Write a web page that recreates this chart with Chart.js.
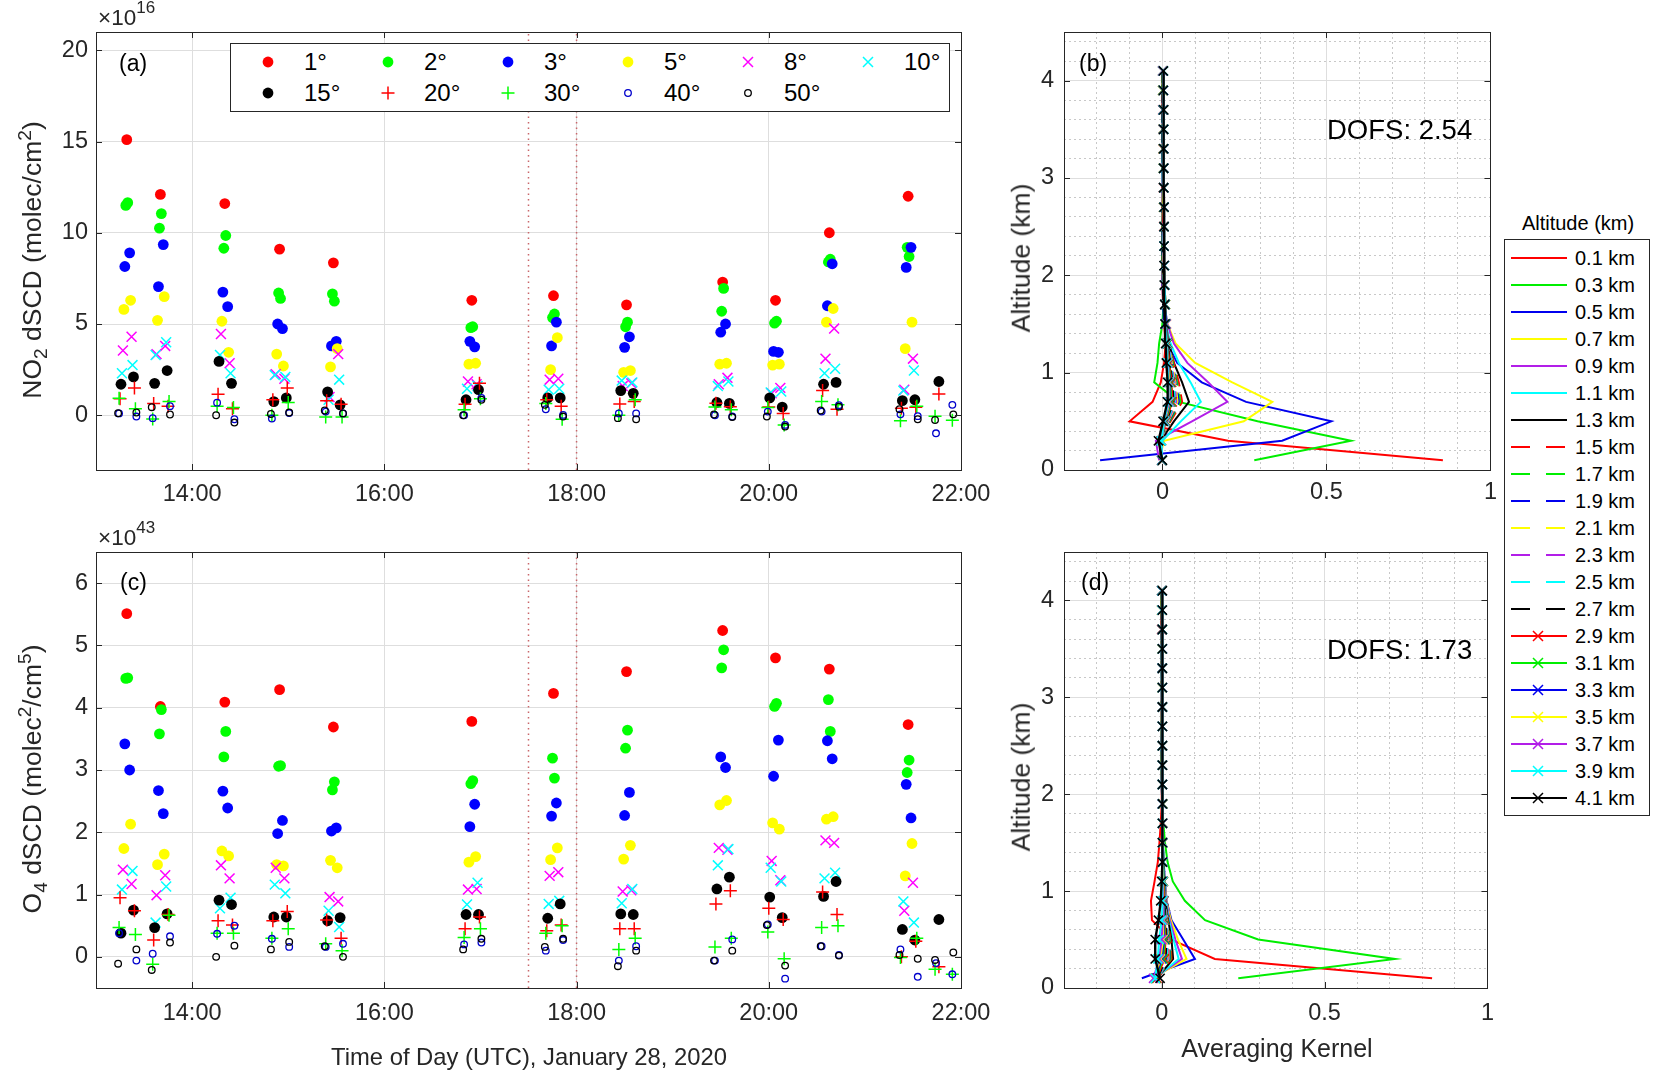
<!DOCTYPE html>
<html>
<head>
<meta charset="utf-8">
<script src="https://cdn.jsdelivr.net/npm/chart.js@4.4.1/dist/chart.umd.min.js"></script>
<style>
  body { margin: 0; background: #fff; font-family: "Liberation Sans", Arial, Helvetica, sans-serif; color: #262626; }
  #page { position: relative; width: 1656px; height: 1072px; overflow: hidden; background: #fff; }
  canvas { position: absolute; }
  .txt { position: absolute; white-space: nowrap; line-height: 1; }
  .rot { transform: translate(-50%, -50%) rotate(-90deg); }
  .ctr { transform: translate(-50%, -50%); }
  .sup { position: relative; top: -0.55em; font-size: 0.72em; }
  .sub { position: relative; top: 0.3em; font-size: 0.72em; }
  .exp { position: relative; top: -12px; font-size: 17px; }
  .legbox { position: absolute; border: 1px solid #262626; background: #fff; box-sizing: border-box; }
</style>
</head>
<body>
<div id="page">
  <canvas id="cA" width="1010" height="520" style="left:0;top:0;width:1010px;height:520px"></canvas>
  <canvas id="cC" width="1010" height="552" style="left:0;top:520px;width:1010px;height:552px"></canvas>
  <canvas id="cB" width="530" height="520" style="left:975px;top:0;width:530px;height:520px"></canvas>
  <canvas id="cD" width="530" height="552" style="left:975px;top:520px;width:530px;height:552px"></canvas>

  <div class="txt" style="left:98px;top:7px;font-size:22.5px">×10<span class="exp">16</span></div>
  <div class="txt" style="left:98px;top:527px;font-size:22.5px">×10<span class="exp">43</span></div>

  <div class="txt rot" style="left:32px;top:260px;font-size:26.5px">NO<span class="sub">2</span> dSCD (molec/cm<span class="sup">2</span>)</div>
  <div class="txt rot" style="left:32px;top:779px;font-size:26.5px">O<span class="sub">4</span> dSCD (molec<span class="sup">2</span>/cm<span class="sup">5</span>)</div>
  <div class="txt rot" style="left:1021px;top:258px;font-size:26.5px">Altitude (km)</div>
  <div class="txt rot" style="left:1021px;top:777px;font-size:26.5px">Altitude (km)</div>
  <div class="txt ctr" style="left:529px;top:1057px;font-size:23.8px">Time of Day (UTC), January 28, 2020</div>
  <div class="txt ctr" style="left:1277px;top:1048px;font-size:25px">Averaging Kernel</div>

  <div class="txt" style="left:119px;top:52px;font-size:23px;color:#000">(a)</div>
  <div class="txt" style="left:120px;top:571px;font-size:23px;color:#000">(c)</div>
  <div class="txt" style="left:1079px;top:52px;font-size:23px;color:#000">(b)</div>
  <div class="txt" style="left:1081px;top:571px;font-size:23px;color:#000">(d)</div>

  <div class="txt" style="left:1327px;top:116px;font-size:27.5px;color:#000">DOFS: 2.54</div>
  <div class="txt" style="left:1327px;top:636px;font-size:27.5px;color:#000">DOFS: 1.73</div>

  <div id="legAngles"></div>
  <div class="txt ctr" style="left:1578px;top:223px;font-size:20px;color:#000">Altitude (km)</div>
  <div id="legAlt"></div>
</div>

<script>
// ---- panel (a)/(c): elevation-angle dSCDs ----
const timeTicks = [14, 16, 18, 20, 22];
const timeRange = [13, 22];
const no2Ticks = [0, 5, 10, 15, 20];
const no2Range = [-3, 21];
const o4Ticks = [0, 1, 2, 3, 4, 5, 6];
const o4Range = [-0.5, 6.5];
const refTimes = [17.5, 18.0];

const angleLabels = ['1°', '2°', '3°', '5°', '8°', '10°', '15°', '20°', '30°', '40°', '50°'];
const angleColors = ['#ff0000', '#00ff00', '#0000ff', '#ffff00', '#ff00ff', '#00ffff', '#000000', '#ff0000', '#00ff00', '#0000cc', '#000000'];
const angleMarks = ['dot', 'dot', 'dot', 'dot', 'x', 'x', 'dot', 'plus', 'plus', 'ring', 'ring'];

// measurement times (hours UTC)
const t1 = [13.32, 13.67, 14.34, 14.91, 15.47, 16.91, 17.76, 18.52, 19.52, 20.07, 20.63, 21.45];
const t2 = [13.31, 13.33, 13.66, 13.68, 14.33, 14.35, 14.90, 14.92, 15.46, 15.48, 16.90, 16.92, 17.75, 17.77, 18.51, 18.53, 19.51, 19.53, 20.06, 20.08, 20.62, 20.64, 21.44, 21.46];
const t3 = [13.30, 13.35, 13.65, 13.70, 14.32, 14.37, 14.89, 14.94, 15.45, 15.50, 16.89, 16.94, 17.74, 17.79, 18.50, 18.55, 19.50, 19.55, 20.05, 20.10, 20.61, 20.66, 21.43, 21.48];
const t5 = [13.29, 13.36, 13.64, 13.71, 14.31, 14.38, 14.88, 14.95, 15.44, 15.51, 16.88, 16.95, 17.73, 17.80, 18.49, 18.56, 19.49, 19.56, 20.04, 20.11, 20.60, 20.67, 21.42, 21.49];
const t8 = [13.28, 13.37, 13.63, 13.72, 14.30, 14.39, 14.87, 14.96, 15.43, 15.52, 16.87, 16.96, 17.72, 17.81, 18.48, 18.57, 19.48, 19.57, 20.03, 20.12, 20.59, 20.68, 21.41, 21.50];
const t10 = [13.27, 13.38, 13.62, 13.73, 14.29, 14.40, 14.86, 14.97, 15.42, 15.53, 16.86, 16.97, 17.71, 17.82, 18.47, 18.58, 19.47, 19.58, 20.02, 20.13, 20.58, 20.69, 21.40, 21.51];
const t15 = [13.26, 13.39, 13.61, 13.74, 14.28, 14.41, 14.85, 14.98, 15.41, 15.54, 16.85, 16.98, 17.70, 17.83, 18.46, 18.59, 19.46, 19.59, 20.01, 20.14, 20.57, 20.70, 21.39, 21.52, 21.77];
const t20 = [13.25, 13.40, 13.60, 13.75, 14.27, 14.42, 14.84, 14.99, 15.40, 15.55, 16.84, 16.99, 17.69, 17.84, 18.45, 18.60, 19.45, 19.60, 20.00, 20.15, 20.56, 20.71, 21.38, 21.53, 21.77];
const t30 = [13.24, 13.41, 13.59, 13.76, 14.26, 14.43, 14.83, 15.00, 15.39, 15.56, 16.83, 17.00, 17.68, 17.85, 18.44, 18.61, 19.44, 19.61, 19.99, 20.16, 20.55, 20.72, 21.37, 21.54, 21.73, 21.91];
const t40 = [13.24, 13.42, 13.59, 13.77, 14.26, 14.44, 14.83, 15.01, 15.39, 15.57, 16.83, 17.01, 17.68, 17.86, 18.44, 18.62, 19.44, 19.62, 19.99, 20.17, 20.55, 20.73, 21.37, 21.55, 21.74, 21.91];
const t50 = [13.23, 13.42, 13.58, 13.77, 14.25, 14.44, 14.82, 15.01, 15.38, 15.57, 16.82, 17.01, 17.67, 17.86, 18.43, 18.62, 19.43, 19.62, 19.98, 20.17, 20.54, 20.73, 21.36, 21.55, 21.73, 21.92];

// NO2 dSCD, x1e16 molec/cm2
const no2_1 = [15.1, 12.1, 11.6, 9.1, 8.35, 6.3, 6.55, 6.05, 7.3, 6.3, 10.0, 12.0];
const no2_2 = [11.5, 11.65, 10.25, 11.05, 9.15, 9.85, 6.7, 6.4, 6.65, 6.25, 4.8, 4.85, 5.35, 5.55, 4.85, 5.1, 5.7, 6.95, 5.05, 5.15, 8.4, 8.55, 9.2, 8.7];
const no2_3 = [8.15, 8.9, 7.05, 9.35, 6.75, 5.95, 5.0, 4.75, 3.8, 4.05, 4.05, 3.75, 3.8, 5.1, 3.72, 4.3, 4.55, 5.0, 3.5, 3.45, 6.0, 8.3, 8.1, 9.2];
const no2_5 = [5.8, 6.3, 5.2, 6.5, 5.15, 3.45, 3.35, 2.7, 2.65, 3.65, 2.8, 2.85, 2.5, 4.25, 2.35, 2.45, 2.8, 2.85, 2.75, 2.8, 5.1, 5.85, 3.65, 5.1];
const no2_8 = [3.55, 4.3, 3.35, 3.8, 4.45, 2.85, 2.25, 2.0, 1.0, 3.35, 1.85, 1.7, 1.95, 2.0, 1.6, 1.75, 1.7, 2.05, 1.2, 1.5, 3.1, 4.75, 1.4, 3.1];
const no2_10 = [2.3, 2.75, 3.3, 4.0, 3.3, 2.3, 2.2, 2.1, 0.85, 1.95, 1.45, 1.6, 1.4, 1.45, 1.9, 1.8, 1.6, 1.85, 1.25, 1.3, 2.3, 2.55, 1.35, 2.45];
const no2_15 = [1.7, 2.1, 1.75, 2.45, 2.95, 1.75, 0.75, 0.95, 1.28, 0.57, 0.85, 1.4, 0.95, 0.95, 1.35, 1.2, 0.7, 0.65, 0.95, 0.45, 1.7, 1.8, 0.8, 0.85, 1.85];
const no2_20 = [0.9, 1.5, 0.65, 0.5, 1.15, 0.35, 0.85, 1.5, 0.8, 0.6, 0.6, 1.75, 0.85, 0.5, 0.62, 0.75, 0.66, 0.47, 0.45, 0.1, 1.35, 0.33, 0.38, 0.44, 1.17];
const no2_30 = [0.93, 0.35, -0.2, 0.75, 0.5, 0.42, 0.0, 0.7, -0.1, -0.1, 0.3, 0.9, 0.65, -0.22, 0.0, 0.85, 0.45, 0.3, 0.42, -0.53, 0.75, 0.57, -0.3, 0.5, -0.05, -0.28];
const no2_40 = [0.1, -0.07, -0.16, 0.5, 0.69, -0.22, -0.18, 0.12, 0.2, 0.1, 0.0, 0.95, 0.33, 0.02, 0.1, 0.1, 0.0, -0.07, 0.2, -0.53, 0.2, 0.55, 0.05, -0.05, -0.99, 0.57];
const no2_50 = [0.11, 0.15, 0.44, 0.04, 0.0, -0.4, 0.07, 0.15, 0.26, 0.1, 0.0, 0.85, 0.57, -0.07, -0.16, -0.22, 0.04, -0.1, -0.07, -0.62, 0.26, 0.47, 0.33, -0.22, -0.26, 0.05];

// O4 dSCD, x1e43 molec2/cm5
const o4_1 = [5.51, 4.02, 4.09, 4.29, 3.69, 3.78, 4.23, 4.58, 5.24, 4.8, 4.62, 3.73];
const o4_2 = [4.47, 4.48, 3.58, 3.97, 3.21, 3.62, 3.06, 3.07, 2.68, 2.81, 2.78, 2.83, 3.19, 2.87, 3.35, 3.64, 4.64, 4.93, 4.02, 4.07, 4.13, 3.62, 2.96, 3.16];
const o4_3 = [3.42, 3.0, 2.67, 2.3, 2.66, 2.39, 1.98, 2.19, 2.02, 2.07, 2.09, 2.45, 2.26, 2.47, 2.27, 2.64, 3.21, 3.04, 2.9, 3.48, 3.47, 3.18, 2.77, 2.23];
const o4_5 = [1.74, 2.13, 1.48, 1.65, 1.7, 1.62, 1.48, 1.46, 1.55, 1.43, 1.52, 1.61, 1.56, 1.75, 1.57, 1.79, 2.44, 2.51, 2.15, 2.05, 2.21, 2.25, 1.3, 1.82];
const o4_8 = [1.4, 1.17, 0.99, 1.31, 1.47, 1.26, 1.43, 1.26, 0.96, 0.89, 1.08, 1.09, 1.3, 1.36, 1.05, 1.07, 1.75, 1.72, 1.54, 1.23, 1.87, 1.83, 0.74, 1.19];
const o4_10 = [1.08, 1.38, 0.55, 1.13, 0.78, 0.95, 1.16, 1.02, 0.74, 0.48, 0.84, 1.19, 0.85, 0.9, 0.86, 1.09, 1.47, 1.73, 1.43, 1.21, 1.26, 1.35, 0.89, 0.55];
const o4_15 = [0.38, 0.75, 0.47, 0.69, 0.91, 0.84, 0.64, 0.64, 0.58, 0.63, 0.68, 0.68, 0.62, 0.85, 0.69, 0.68, 1.09, 1.28, 0.96, 0.63, 0.97, 1.21, 0.44, 0.27, 0.6];
const o4_20 = [0.95, 0.74, 0.27, 0.68, 0.58, 0.51, 0.58, 0.73, 0.59, 0.3, 0.45, 0.64, 0.42, 0.51, 0.45, 0.45, 0.85, 1.06, 0.78, 0.6, 1.04, 0.68, 0.0, 0.25, -0.16];
const o4_30 = [0.47, 0.36, -0.12, 0.67, 0.38, 0.38, 0.3, 0.45, 0.21, 0.1, 0.31, 0.45, 0.38, 0.5, 0.12, 0.3, 0.16, 0.3, 0.4, -0.03, 0.47, 0.5, -0.01, 0.3, -0.2, -0.28];
const o4_40 = [0.38, -0.06, 0.05, 0.33, 0.37, 0.5, 0.29, 0.16, 0.16, 0.21, 0.2, 0.23, 0.1, 0.27, -0.06, 0.17, -0.06, 0.28, 0.52, -0.35, 0.17, 0.03, 0.12, -0.32, -0.1, -0.28];
const o4_50 = [-0.11, 0.12, -0.21, 0.23, 0.0, 0.18, 0.12, 0.24, 0.17, 0.0, 0.12, 0.29, 0.16, 0.29, -0.15, 0.1, -0.06, 0.1, 0.51, -0.14, 0.17, 0.02, 0.03, -0.03, -0.05, 0.07];

// ---- panel (b)/(d): averaging kernels ----
const altitudes = [0.1, 0.3, 0.5, 0.7, 0.9, 1.1, 1.3, 1.5, 1.7, 1.9, 2.1, 2.3, 2.5, 2.7, 2.9, 3.1, 3.3, 3.5, 3.7, 3.9, 4.1];
const akLabels = ['0.1 km', '0.3 km', '0.5 km', '0.7 km', '0.9 km', '1.1 km', '1.3 km', '1.5 km', '1.7 km', '1.9 km', '2.1 km',
                  '2.3 km', '2.5 km', '2.7 km', '2.9 km', '3.1 km', '3.3 km', '3.5 km', '3.7 km', '3.9 km', '4.1 km'];
const akColors = ['#ff0000', '#00ee00', '#0000ee', '#ffff00', '#b21ee8', '#00ffff', '#000000'];
const akXTicks = [-0.2, -0.1, 0, 0.1, 0.2, 0.3, 0.4, 0.5, 0.6, 0.7, 0.8, 0.9, 1.0];
const akXMajor = [0, 0.5, 1.0];
const akYTicks = [0, 0.2, 0.4, 0.6, 0.8, 1, 1.2, 1.4, 1.6, 1.8, 2, 2.2, 2.4, 2.6, 2.8, 3, 3.2, 3.4, 3.6, 3.8, 4, 4.2, 4.4];
const akYMajor = [0, 1, 2, 3, 4];
const akXRange = [-0.3, 1.0];
const akYRange = [0, 4.5];

// NO2 retrieval kernels (b)
const akB01 = [0.855, 0.20, -0.10, -0.03, -0.005, 0.005, 0.01, 0.005, 0.002, 0, 0, 0, 0, 0, 0, 0, 0, 0, 0, 0, 0];
const akB03 = [0.28, 0.575, 0.29, 0.05, -0.025, -0.015, -0.01, 0.0, 0.003, 0.002, 0.001, 0, 0, 0, 0, 0, 0, 0, 0, 0, 0];
const akB05 = [-0.19, 0.365, 0.515, 0.255, 0.12, 0.045, 0.015, 0.005, 0.002, 0.001, 0, 0, 0, 0, 0, 0, 0, 0, 0, 0, 0];
const akB07 = [-0.01, 0.005, 0.248, 0.335, 0.213, 0.10, 0.04, 0.015, 0.005, 0.002, 0, 0, 0, 0, 0, 0, 0, 0, 0, 0, 0];
const akB09 = [-0.01, -0.02, 0.09, 0.198, 0.14, 0.076, 0.035, 0.015, 0.006, 0.002, 0.001, 0, 0, 0, 0, 0, 0, 0, 0, 0, 0];
const akB11 = [-0.005, 0.0, 0.056, 0.117, 0.086, 0.05, 0.025, 0.01, 0.005, 0.002, 0.001, 0, 0, 0, 0, 0, 0, 0, 0, 0, 0];
const akB13 = [-0.005, -0.005, 0.035, 0.081, 0.06, 0.035, 0.02, 0.008, 0.004, 0.002, 0.001, 0, 0, 0, 0, 0, 0, 0, 0, 0, 0];
const akB15 = [-0.005, -0.008, 0.025, 0.06, 0.05, 0.035, 0.02, 0.01, 0.005, 0.002, 0.001, 0, 0, 0, 0, 0, 0, 0, 0, 0, 0];
const akB17 = [-0.004, -0.008, 0.022, 0.055, 0.045, 0.032, 0.02, 0.012, 0.006, 0.003, 0.001, 0, 0, 0, 0, 0, 0, 0, 0, 0, 0];
const akB19 = [-0.004, -0.007, 0.02, 0.05, 0.042, 0.03, 0.02, 0.012, 0.007, 0.004, 0.002, 0.001, 0, 0, 0, 0, 0, 0, 0, 0, 0];
const akB21 = [-0.003, -0.006, 0.018, 0.046, 0.04, 0.029, 0.02, 0.013, 0.008, 0.005, 0.003, 0.002, 0.001, 0, 0, 0, 0, 0, 0, 0, 0];
const akB23 = [-0.003, -0.006, 0.016, 0.042, 0.037, 0.027, 0.019, 0.013, 0.009, 0.006, 0.004, 0.003, 0.002, 0.001, 0, 0, 0, 0, 0, 0, 0];
const akB25 = [-0.003, -0.005, 0.014, 0.038, 0.034, 0.025, 0.018, 0.013, 0.009, 0.007, 0.005, 0.004, 0.003, 0.002, 0.001, 0, 0, 0, 0, 0, 0];
const akB27 = [-0.002, -0.005, 0.012, 0.034, 0.031, 0.023, 0.017, 0.012, 0.009, 0.007, 0.006, 0.005, 0.004, 0.003, 0.002, 0.001, 0, 0, 0, 0, 0];
const akB29 = [-0.002, -0.004, 0.01, 0.03, 0.028, 0.021, 0.016, 0.012, 0.009, 0.007, 0.006, 0.005, 0.004, 0.004, 0.003, 0.003, 0.002, 0.002, 0.001, 0.001, 0.001];
const akB31 = [-0.002, -0.004, 0.009, 0.027, 0.025, 0.019, 0.015, 0.011, 0.009, 0.007, 0.006, 0.005, 0.005, 0.004, 0.004, 0.003, 0.003, 0.002, 0.002, 0.001, 0.001];
const akB33 = [-0.002, -0.004, 0.008, 0.024, 0.023, 0.018, 0.014, 0.011, 0.008, 0.007, 0.006, 0.005, 0.005, 0.004, 0.004, 0.004, 0.003, 0.003, 0.002, 0.002, 0.001];
const akB35 = [-0.001, -0.003, 0.007, 0.022, 0.021, 0.017, 0.013, 0.01, 0.008, 0.007, 0.006, 0.005, 0.005, 0.004, 0.004, 0.004, 0.003, 0.003, 0.003, 0.002, 0.002];
const akB37 = [-0.001, -0.003, 0.006, 0.02, 0.019, 0.016, 0.012, 0.01, 0.008, 0.007, 0.006, 0.005, 0.005, 0.005, 0.004, 0.004, 0.004, 0.003, 0.003, 0.003, 0.002];
const akB39 = [-0.001, -0.003, 0.005, 0.018, 0.018, 0.015, 0.012, 0.009, 0.008, 0.007, 0.006, 0.005, 0.005, 0.005, 0.004, 0.004, 0.004, 0.004, 0.003, 0.003, 0.003];
const akB41 = [0.0, -0.012, 0.002, 0.015, 0.016, 0.012, 0.01, 0.008, 0.007, 0.006, 0.005, 0.005, 0.005, 0.005, 0.004, 0.004, 0.004, 0.004, 0.004, 0.003, 0.003];

// O4 retrieval kernels (d)
const akD01 = [0.83, 0.163, 0.03, -0.03, -0.033, -0.022, -0.012, -0.007, -0.003, 0, 0, 0, 0, 0, 0, 0, 0, 0, 0, 0, 0];
const akD03 = [0.235, 0.716, 0.296, 0.133, 0.071, 0.034, 0.018, 0.01, 0.005, 0.002, 0.001, 0, 0, 0, 0, 0, 0, 0, 0, 0, 0];
const akD05 = [-0.061, 0.102, 0.066, 0.03, 0.015, 0.01, 0.006, 0.003, 0.002, 0.001, 0, 0, 0, 0, 0, 0, 0, 0, 0, 0, 0];
const akD07 = [-0.03, 0.076, 0.05, 0.028, 0.014, 0.009, 0.005, 0.003, 0.002, 0.001, 0, 0, 0, 0, 0, 0, 0, 0, 0, 0, 0];
const akD09 = [-0.025, 0.062, 0.042, 0.025, 0.013, 0.008, 0.005, 0.003, 0.002, 0.001, 0, 0, 0, 0, 0, 0, 0, 0, 0, 0, 0];
const akD11 = [-0.02, 0.052, 0.036, 0.022, 0.012, 0.008, 0.005, 0.003, 0.002, 0.001, 0, 0, 0, 0, 0, 0, 0, 0, 0, 0, 0];
const akD13 = [-0.015, 0.035, 0.03, 0.02, 0.011, 0.007, 0.005, 0.003, 0.002, 0.001, 0, 0, 0, 0, 0, 0, 0, 0, 0, 0, 0];
const akD15 = [-0.014, 0.03, 0.027, 0.018, 0.011, 0.007, 0.005, 0.003, 0.002, 0.001, 0.001, 0, 0, 0, 0, 0, 0, 0, 0, 0, 0];
const akD17 = [-0.013, 0.027, 0.025, 0.017, 0.01, 0.007, 0.005, 0.004, 0.002, 0.001, 0.001, 0, 0, 0, 0, 0, 0, 0, 0, 0, 0];
const akD19 = [-0.012, 0.024, 0.023, 0.016, 0.01, 0.007, 0.005, 0.004, 0.003, 0.002, 0.001, 0.001, 0, 0, 0, 0, 0, 0, 0, 0, 0];
const akD21 = [-0.012, 0.021, 0.021, 0.015, 0.009, 0.006, 0.005, 0.004, 0.003, 0.002, 0.001, 0.001, 0.001, 0, 0, 0, 0, 0, 0, 0, 0];
const akD23 = [-0.011, 0.018, 0.019, 0.014, 0.009, 0.006, 0.005, 0.004, 0.003, 0.002, 0.002, 0.001, 0.001, 0.001, 0, 0, 0, 0, 0, 0, 0];
const akD25 = [-0.011, 0.015, 0.017, 0.013, 0.008, 0.006, 0.005, 0.004, 0.003, 0.002, 0.002, 0.002, 0.001, 0.001, 0.001, 0, 0, 0, 0, 0, 0];
const akD27 = [-0.012, 0.012, 0.015, 0.012, 0.008, 0.006, 0.004, 0.004, 0.003, 0.003, 0.002, 0.002, 0.002, 0.001, 0.001, 0.001, 0, 0, 0, 0, 0];
const akD29 = [-0.015, 0.008, 0.012, 0.01, 0.007, 0.005, 0.004, 0.004, 0.003, 0.003, 0.002, 0.002, 0.002, 0.002, 0.001, 0.001, 0.001, 0.001, 0, 0, 0];
const akD31 = [-0.018, 0.004, 0.01, 0.009, 0.006, 0.005, 0.004, 0.003, 0.003, 0.003, 0.002, 0.002, 0.002, 0.002, 0.002, 0.001, 0.001, 0.001, 0.001, 0, 0];
const akD33 = [-0.02, 0.0, 0.007, 0.007, 0.006, 0.004, 0.004, 0.003, 0.003, 0.003, 0.002, 0.002, 0.002, 0.002, 0.002, 0.002, 0.001, 0.001, 0.001, 0.001, 0];
const akD35 = [-0.022, -0.004, 0.004, 0.005, 0.005, 0.004, 0.003, 0.003, 0.003, 0.003, 0.002, 0.002, 0.002, 0.002, 0.002, 0.002, 0.002, 0.001, 0.001, 0.001, 0.001];
const akD37 = [-0.025, -0.008, 0.0, 0.003, 0.004, 0.003, 0.003, 0.003, 0.003, 0.002, 0.002, 0.002, 0.002, 0.002, 0.002, 0.002, 0.002, 0.002, 0.001, 0.001, 0.001];
const akD39 = [-0.02, -0.012, -0.008, 0.0, 0.003, 0.003, 0.003, 0.003, 0.002, 0.002, 0.002, 0.002, 0.002, 0.002, 0.002, 0.002, 0.002, 0.002, 0.002, 0.001, 0.001];
const akD41 = [-0.005, -0.02, -0.02, -0.01, -0.003, 0.0, 0.002, 0.002, 0.002, 0.002, 0.002, 0.002, 0.002, 0.002, 0.002, 0.002, 0.002, 0.002, 0.002, 0.002, 0.002];

// ---- assemble ----
const angleTimes = [t1, t2, t3, t5, t8, t10, t15, t20, t30, t40, t50];
const no2Series = [no2_1, no2_2, no2_3, no2_5, no2_8, no2_10, no2_15, no2_20, no2_30, no2_40, no2_50];
const o4Series = [o4_1, o4_2, o4_3, o4_5, o4_8, o4_10, o4_15, o4_20, o4_30, o4_40, o4_50];
const akBSeries = [akB01, akB03, akB05, akB07, akB09, akB11, akB13, akB15, akB17, akB19, akB21, akB23, akB25, akB27, akB29, akB31, akB33, akB35, akB37, akB39, akB41];
const akDSeries = [akD01, akD03, akD05, akD07, akD09, akD11, akD13, akD15, akD17, akD19, akD21, akD23, akD25, akD27, akD29, akD31, akD33, akD35, akD37, akD39, akD41];

const FONT = '"Liberation Sans", Arial, Helvetica, sans-serif';
const TXT = '#262626';
const GRID = '#dedede';
const GRID_MINOR = '#c8c8c8';

// box round the axes plus inward tick marks, like MATLAB "box on"
const boxPlugin = {
  id: 'matlabBox',
  afterDraw(chart, args, opts) {
    const { ctx, chartArea: a, scales } = chart;
    const len = 6;
    ctx.save();
    ctx.strokeStyle = TXT;
    ctx.lineWidth = 1;
    ctx.beginPath();
    opts.xMajor.forEach(v => {
      const px = Math.round(scales.x.getPixelForValue(v)) + 0.5;
      ctx.moveTo(px, a.bottom); ctx.lineTo(px, a.bottom - len);
      ctx.moveTo(px, a.top); ctx.lineTo(px, a.top + len);
    });
    opts.yMajor.forEach(v => {
      const py = Math.round(scales.y.getPixelForValue(v)) + 0.5;
      ctx.moveTo(a.left, py); ctx.lineTo(a.left + len, py);
      ctx.moveTo(a.right, py); ctx.lineTo(a.right - len, py);
    });
    ctx.stroke();
    ctx.strokeRect(Math.round(a.left) + 0.5, Math.round(a.top) + 0.5, Math.round(a.right - a.left), Math.round(a.bottom - a.top));
    ctx.restore();
  }
};

function markerProps(style, color) {
  if (style === 'dot') return { pointStyle: 'circle', pointRadius: 5.4, pointBackgroundColor: color, pointBorderColor: color, pointBorderWidth: 0 };
  if (style === 'x') return { pointStyle: 'crossRot', pointRadius: 7, pointBackgroundColor: color, pointBorderColor: color, pointBorderWidth: 1.5 };
  if (style === 'plus') return { pointStyle: 'cross', pointRadius: 6.5, pointBackgroundColor: color, pointBorderColor: color, pointBorderWidth: 1.5 };
  return { pointStyle: 'circle', pointRadius: 3.3, pointBackgroundColor: 'rgba(0,0,0,0)', pointBorderColor: color, pointBorderWidth: 1.3 };
}

function axisCommon(ticksArr, range, labelFn, fitFn, pad, gridColor, gridDash) {
  return {
    type: 'linear',
    min: range[0],
    max: range[1],
    afterBuildTicks: s => { s.ticks = ticksArr.map(v => ({ value: v })); },
    afterFit: fitFn,
    ticks: { callback: labelFn, autoSkip: false, maxRotation: 0, padding: pad, color: TXT, font: { family: FONT, size: 23.5 } },
    grid: { color: gridColor, drawTicks: false, lineWidth: 1 },
    border: { display: false, dash: gridDash }
  };
}

function timePanel(canvasId, series, yTicks, yRange, xAxisH, xPad) {
  const datasets = series.map((vals, i) => Object.assign({
    label: angleLabels[i],
    data: vals.map((v, j) => ({ x: angleTimes[i][j], y: v })),
    showLine: false,
    order: series.length - i
  }, markerProps(angleMarks[i], angleColors[i])));
  refTimes.forEach(t => datasets.push({
    data: [{ x: t, y: yRange[0] }, { x: t, y: yRange[1] }],
    showLine: true, pointRadius: 0, borderColor: '#c9666a', borderWidth: 1.5, borderDash: [1.5, 4], order: 0
  }));
  return new Chart(document.getElementById(canvasId), {
    type: 'scatter',
    data: { datasets },
    plugins: [boxPlugin],
    options: {
      responsive: false, animation: false, events: [],
      layout: { padding: { left: 0, top: 32, right: 49, bottom: 0 } },
      scales: {
        x: axisCommon(timeTicks, timeRange, v => v + ':00', s => { s.height = xAxisH; }, xPad, GRID, []),
        y: axisCommon(yTicks, yRange, v => String(v), s => { s.width = 96; }, 8, GRID, [])
      },
      plugins: { legend: { display: false }, tooltip: { enabled: false },
                 matlabBox: { xMajor: timeTicks, yMajor: yTicks } }
    }
  });
}

function akPanel(canvasId, series, xAxisH, xPad) {
  const datasets = series.map((vals, k) => ({
    label: akLabels[k],
    data: vals.map((v, j) => ({ x: v, y: altitudes[j] })),
    showLine: true,
    borderColor: akColors[k % 7],
    borderWidth: k === series.length - 1 ? 2.4 : 2,
    borderDash: (k >= 7 && k < 14) ? [12, 8] : [],
    pointStyle: 'crossRot',
    pointRadius: k >= 14 ? 6.5 : 0,
    pointBorderColor: akColors[k % 7],
    pointBorderWidth: 1.6,
    order: series.length - k
  }));
  const isMajX = v => akXMajor.includes(v);
  const isMajY = v => akYMajor.includes(v);
  return new Chart(document.getElementById(canvasId), {
    type: 'scatter',
    data: { datasets },
    plugins: [boxPlugin],
    options: {
      responsive: false, animation: false, events: [],
      layout: { padding: { left: 0, top: 32, right: 14, bottom: 0 } },
      scales: {
        x: axisCommon(akXTicks, akXRange, v => isMajX(v) ? String(v) : '', s => { s.height = xAxisH; }, xPad,
                      c => (c.tick && isMajX(c.tick.value)) ? GRID : GRID_MINOR,
                      c => (c.tick && !isMajX(c.tick.value)) ? [2, 3] : []),
        y: axisCommon(akYTicks, akYRange, v => isMajY(v) ? String(v) : '', s => { s.width = 89; }, 10,
                      c => (c.tick && isMajY(c.tick.value)) ? GRID : GRID_MINOR,
                      c => (c.tick && !isMajY(c.tick.value)) ? [2, 3] : [])
      },
      plugins: { legend: { display: false }, tooltip: { enabled: false },
                 matlabBox: { xMajor: akXMajor, yMajor: akYMajor } }
    }
  });
}

timePanel('cA', no2Series, no2Ticks, no2Range, 50, 10);
timePanel('cC', o4Series, o4Ticks, o4Range, 84, 11);
akPanel('cB', akBSeries, 50, 8);
akPanel('cD', akDSeries, 84, 11);

// ---- legends (HTML) ----
function svgMarker(style, color) {
  const c = 10;
  let body;
  if (style === 'dot') body = `<circle cx="${c}" cy="${c}" r="5.4" fill="${color}"/>`;
  else if (style === 'ring') body = `<circle cx="${c}" cy="${c}" r="3.3" fill="none" stroke="${color}" stroke-width="1.3"/>`;
  else if (style === 'plus') body = `<path d="M${c - 6.5} ${c}H${c + 6.5}M${c} ${c - 6.5}V${c + 6.5}" stroke="${color}" stroke-width="1.5"/>`;
  else body = `<path d="M${c - 5} ${c - 5}L${c + 5} ${c + 5}M${c + 5} ${c - 5}L${c - 5} ${c + 5}" stroke="${color}" stroke-width="1.5"/>`;
  return `<svg width="20" height="20" style="position:absolute;left:-10px;top:-10px;overflow:visible">${body}</svg>`;
}

(function angleLegend() {
  const el = document.getElementById('legAngles');
  let html = '<div class="legbox" style="left:230px;top:43px;width:720px;height:69px"></div>';
  angleLabels.forEach((lab, i) => {
    const col = i < 6 ? i : i - 6;
    const row = i < 6 ? 0 : 1;
    const mx = 268 + 120 * col, my = 62 + 31 * row;
    html += `<div style="position:absolute;left:${mx}px;top:${my}px">${svgMarker(angleMarks[i], angleColors[i])}</div>`;
    html += `<div class="txt" style="left:${mx + 36}px;top:${my - 12}px;font-size:24px;color:#000">${lab}</div>`;
  });
  el.innerHTML = html;
})();

(function altLegend() {
  const el = document.getElementById('legAlt');
  let html = '<div class="legbox" style="left:1504px;top:239px;width:146px;height:577px"></div>';
  akLabels.forEach((lab, k) => {
    const y = 258 + 27 * k;
    const col = akColors[k % 7];
    const dash = (k >= 7 && k < 14) ? 'stroke-dasharray="19 16"' : '';
    const mark = k >= 14 ? `<path d="M22 1L32 11M32 1L22 11" stroke="${col}" stroke-width="1.5"/>` : '';
    html += `<svg width="56" height="12" style="position:absolute;left:1511px;top:${y - 6}px"><line x1="0" y1="6" x2="56" y2="6" stroke="${col}" stroke-width="2" ${dash}/>${mark}</svg>`;
    html += `<div class="txt" style="left:1575px;top:${y - 10}px;font-size:20px;color:#000">${lab}</div>`;
  });
  el.innerHTML = html;
})();
</script>
</body>
</html>
